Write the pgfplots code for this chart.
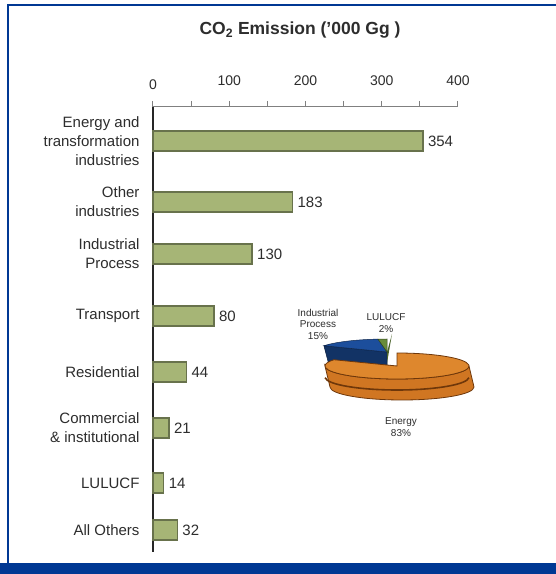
\documentclass[border=0pt]{standalone}
\usepackage{pgfplots}
\pgfplotsset{compat=1.18}
\usepackage{fontspec}
\setmainfont{Liberation Sans}
\definecolor{barfill}{RGB}{166,181,118}
\definecolor{baredge}{RGB}{104,114,76}
\definecolor{frameblue}{RGB}{0,56,147}
\definecolor{pieor}{RGB}{222,135,45}
\definecolor{pieorside}{RGB}{208,118,34}
\definecolor{pieedge}{RGB}{110,55,10}
\definecolor{pieblue}{RGB}{28,78,156}
\definecolor{piegreen}{RGB}{104,140,58}
\definecolor{txt}{RGB}{45,45,45}
\pgfplotstableread{
x y
354 433
183 372
130 320
80 258
44 202
21 146
14 91
32 44
}\bardata
\begin{document}
\begin{tikzpicture}[x=1pt,y=1pt]
\useasboundingbox (0,0) rectangle (556,574);
\fill[white] (0,0) rectangle (556,574);
\draw[frameblue, line width=1.8pt] (8,0) -- (8,569) -- (556,569);
\fill[frameblue] (0,0) rectangle (556,11);
\node[font=\bfseries\fontsize{17.5}{20}\selectfont, text=txt] at (300,544) {CO\textsubscript{2} Emission ('000 Gg )};
\begin{axis}[
  at={(153pt,22pt)}, anchor=south west, scale only axis,
  width=305pt, height=445pt,
  /pgf/number format/assume math mode=true,
  xbar, bar width=20pt,
  xmin=0, xmax=400, ymin=22, ymax=467,
  axis x line*=top, axis y line*=left,
  x axis line style={draw=black!50, line width=1pt, -},
  y axis line style={draw=black!85, line width=1.6pt, -},
  xtick={0,100,200,300,400}, xticklabels={,100,200,300,400},
  minor xtick={50,150,250,350},
  tick align=outside, major tick length=6pt, minor tick length=6pt,
  xtick style={draw=black!50, line width=1pt},
  minor tick style={draw=black!50, line width=1pt},
  xticklabel style={font=\fontsize{14}{16}\selectfont, text=txt, yshift=12pt},
  ytick={433,372,320,258,202,146,91,44},
  yticklabels={{Energy and\\transformation\\industries},{Other\\industries},{Industrial\\Process},Transport,Residential,{Commercial\\\& institutional},LULUCF,All Others},
  ytick style={draw=none},
  yticklabel style={align=right, font=\fontsize{15}{19}\selectfont, text=txt, xshift=-4pt},
  nodes near coords,
  nodes near coords style={font=\fontsize{15}{17}\selectfont, text=txt, anchor=west, xshift=1pt},
  clip=false,
]
\addplot[fill=barfill, draw=baredge, line width=1.5pt] table[x=x,y=y] {\bardata};
\node[font=\fontsize{14}{16}\selectfont, text=txt] at (axis cs:0,467) [yshift=22pt] {0};
\end{axis}
\begin{axis}[
  at={(397pt,208pt)}, anchor=center, scale only axis,
  width=10pt, height=10pt, xmin=-1, xmax=1, ymin=-1, ymax=1,
  hide axis, clip=false,
]
\coordinate (C) at (axis cs:0,0);
\coordinate (E) at ([xshift=-10pt,yshift=14pt]C);
% exploded slices: LULUCF 2% (90-97.2), Industrial Process 15% (97.2-151.2)
\fill[pieblue!65!black, draw=pieblue!40!black, line width=0.5pt] (E) -- ++(151.2:72pt and 13pt) -- ++(0,-24pt) -- ([yshift=-24pt]E) -- cycle;
\fill[pieblue, draw=pieblue!50!black, line width=0.5pt] (E) -- ++(97.2:72pt and 13pt) arc[start angle=97.2, end angle=151.2, x radius=72pt, y radius=13pt] -- cycle;
\fill[piegreen!70!black] ([yshift=-24pt]E) -- ++(90:72pt and 13pt) -- ++(0,24pt) -- (E) -- cycle;
\fill[piegreen, draw=piegreen!50!black, line width=0.5pt] (E) -- ++(90:72pt and 13pt) arc[start angle=90, end angle=97.2, x radius=72pt, y radius=13pt] -- cycle;
% Energy 83%
\fill[pieorside, draw=pieedge, line width=0.8pt] (C) ++(180:72pt and 13pt) arc[start angle=180, end angle=360, x radius=72pt, y radius=13pt] -- ++(0,-26pt) arc[start angle=360, end angle=180, x radius=72pt, y radius=13pt] -- cycle;
\draw[pieedge, line width=1.6pt] ([yshift=-11pt]C) ++(183:72pt and 13pt) arc[start angle=183, end angle=357, x radius=72pt, y radius=13pt];
\fill[pieor, draw=pieedge, line width=0.8pt] (C) -- ++(151.2:72pt and 13pt) arc[start angle=151.2, end angle=450, x radius=72pt, y radius=13pt] -- cycle;
\end{axis}
\node[font=\fontsize{10}{11.5}\selectfont, text=txt, align=center] at (318,250) {Industrial\\Process\\15\%};
\node[font=\fontsize{10}{11.5}\selectfont, text=txt, align=center] at (386,251) {LULUCF\\2\%};
\node[font=\fontsize{10}{11.5}\selectfont, text=txt, align=center] at (401,147) {Energy\\83\%};
\end{tikzpicture}
\end{document}
